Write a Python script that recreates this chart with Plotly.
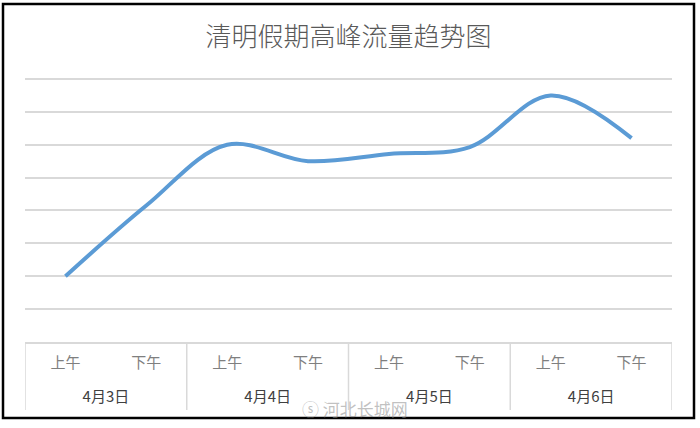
import plotly.graph_objects as go

dates = ["4月3日", "4月4日", "4月5日", "4月6日"]
periods = ["上午", "下午", "上午", "下午", "上午", "下午", "上午", "下午"]
values = [2.0, 4.15, 6.0, 5.5, 5.72, 5.93, 7.5, 6.2]
title_text = "清明假期高峰流量趋势图"
watermark = "河北长城网"

W, H = 700, 428
L, R, T, B = 25, 28, 77, 86
pw, ph = W - L - R, H - T - B

def px(x):
    return (x - L) / pw

def py(y):
    return (H - B - y) / ph

idx = list(range(len(periods)))
per_group = len(periods) // len(dates)
group_centers = [g * per_group + (per_group - 1) / 2 for g in range(len(dates))]
bounds = [g * per_group - 0.5 for g in range(len(dates) + 1)]

fig = go.Figure()
fig.add_trace(go.Scatter(
    x=idx, y=values, mode="lines",
    line=dict(color="#5B9BD5", width=4, shape="spline", smoothing=1.0),
    hoverinfo="skip", showlegend=False,
))
fig.add_trace(go.Scatter(x=group_centers, y=[None] * len(dates), xaxis="x2",
                         mode="lines", showlegend=False, hoverinfo="skip"))

fig.update_layout(
    width=W, height=H,
    margin=dict(l=L, r=R, t=T, b=B, pad=0, autoexpand=False),
    paper_bgcolor="white", plot_bgcolor="white",
    font=dict(family="Noto Sans CJK SC", color="#595959"),
    title=dict(text=title_text, x=0.5, xref="paper", xanchor="center",
               y=1 - 37 / H, yanchor="middle", automargin=False,
               font=dict(size=26, color="#595959", family="Noto Sans CJK SC", weight=300)),
    xaxis=dict(
        range=[-0.5, len(periods) - 0.5], tickmode="array", tickvals=idx, ticktext=periods,
        showline=True, linecolor="#D9D9D9", linewidth=1.5, showgrid=False, zeroline=False,
        ticks="", tickfont=dict(size=15, color="#7F7F7F"), ticklabelstandoff=6,
        automargin=False, fixedrange=True,
    ),
    xaxis2=dict(
        overlaying="x", matches="x", side="bottom", anchor="y",
        tickmode="array", tickvals=group_centers, ticktext=dates,
        showline=False, showgrid=False, zeroline=False, ticks="",
        tickfont=dict(size=15, color="#404040"), ticklabelstandoff=44,
        automargin=False, fixedrange=True,
    ),
    yaxis=dict(
        range=[0, 8.06], dtick=1, tick0=0, showticklabels=False, showgrid=True,
        gridcolor="#D9D9D9", gridwidth=1.5, zeroline=False, showline=False,
        fixedrange=True, automargin=False,
    ),
)

for b in bounds:
    fig.add_shape(type="line", xref="x", yref="paper", x0=b, x1=b, y0=0, y1=py(410),
                  line=dict(color="#D9D9D9", width=1.5), layer="below")

fig.add_shape(type="rect", xref="paper", yref="paper",
              x0=px(3), x1=px(694), y0=py(418), y1=py(4),
              line=dict(color="black", width=2.5), fillcolor="rgba(0,0,0,0)", layer="above")

fig.add_annotation(text="ⓢ " + watermark, xref="paper", yref="paper",
                   x=px(355), y=py(408), xanchor="center", yanchor="middle",
                   showarrow=False,
                   font=dict(size=17, color="rgba(140,140,140,0.55)", family="Noto Sans CJK SC"))

fig.write_html("out.html", config={"displayModeBar": False},
               post_script="document.body.style.margin='0';")
